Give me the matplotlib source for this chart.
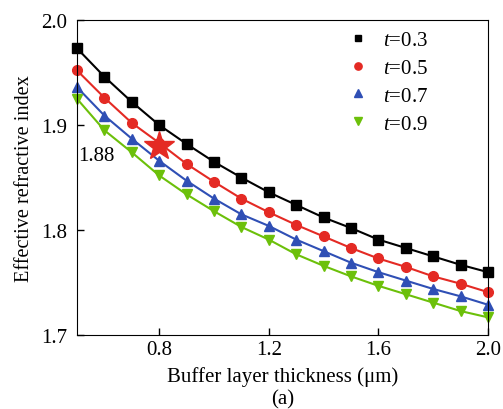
import numpy as np
import matplotlib.pyplot as plt

plt.rcParams['font.family'] = 'Liberation Serif'
plt.rcParams['mathtext.fontset'] = 'custom'
plt.rcParams['mathtext.it'] = 'Liberation Serif:italic'
plt.rcParams['mathtext.rm'] = 'Liberation Serif'

thickness = [0.5, 0.6, 0.7, 0.8, 0.9, 1.0, 1.1, 1.2, 1.3, 1.4, 1.5, 1.6, 1.7, 1.8, 1.9, 2.0]
n_t03 = [1.973, 1.946, 1.922, 1.900, 1.882, 1.865, 1.850, 1.836, 1.824, 1.812, 1.802, 1.791, 1.783, 1.775, 1.767, 1.760]
n_t05 = [1.952, 1.926, 1.902, 1.883, 1.863, 1.846, 1.830, 1.817, 1.805, 1.794, 1.783, 1.773, 1.765, 1.756, 1.749, 1.741]
n_t07 = [1.936, 1.909, 1.887, 1.866, 1.847, 1.830, 1.815, 1.804, 1.791, 1.780, 1.769, 1.760, 1.752, 1.744, 1.737, 1.729]
n_t09 = [1.925, 1.895, 1.874, 1.852, 1.834, 1.818, 1.803, 1.791, 1.777, 1.766, 1.756, 1.747, 1.739, 1.731, 1.723, 1.717]
labels = ['$t$=0.3', '$t$=0.5', '$t$=0.7', '$t$=0.9']
star_x, star_y = 0.8, 1.88

fig = plt.figure(figsize=(5.03, 4.10), dpi=100)
ax = fig.add_axes([0.153, 0.180, 0.817, 0.769])

series = [n_t03, n_t05, n_t07, n_t09]
colors = ['black', '#e42a24', '#2f4fb5', '#6cc00a']
markers = ['s', 'o', '^', 'v']
msizes = [6.5, 7, 7.5, 7.5]
for y, c, m, ms, lab in zip(series, colors, markers, msizes, labels):
    ax.plot(thickness, y, color=c, marker=m, markersize=ms, lw=1.5, label=lab, clip_on=False)

ax.plot(star_x, star_y, marker='*', color='#e42a24', markersize=22, zorder=5)
ax.text(0.505, 1.871, '1.88', fontsize=15, va='center', ha='left')

ax.set_xlim(0.5, 2.0)
ax.set_ylim(1.7, 2.0)
ax.set_xticks([0.8, 1.2, 1.6, 2.0])
ax.set_yticks([1.7, 1.8, 1.9, 2.0])
ax.set_xticklabels(['0.8', '1.2', '1.6', '2.0'])
ax.set_yticklabels(['1.7', '1.8', '1.9', '2.0'])
ax.tick_params(direction='in', labelsize=15, length=5, width=1)
ax.tick_params(axis='y', pad=7)
ax.set_xlabel('Buffer layer thickness (μm)\n(a)', fontsize=15, labelpad=5, linespacing=1.25)
ax.set_ylabel('Effective refractive index', fontsize=14.6, labelpad=5)

leg = ax.legend(loc='upper left', bbox_to_anchor=(0.634, 1.0), fontsize=15,
                frameon=False, markerscale=0.75, borderpad=0,
                handlelength=1.0, handletextpad=0.7, labelspacing=0.4)
for h in leg.legend_handles:
    h.set_linestyle('none')

fig.savefig('out.png', dpi=100)
